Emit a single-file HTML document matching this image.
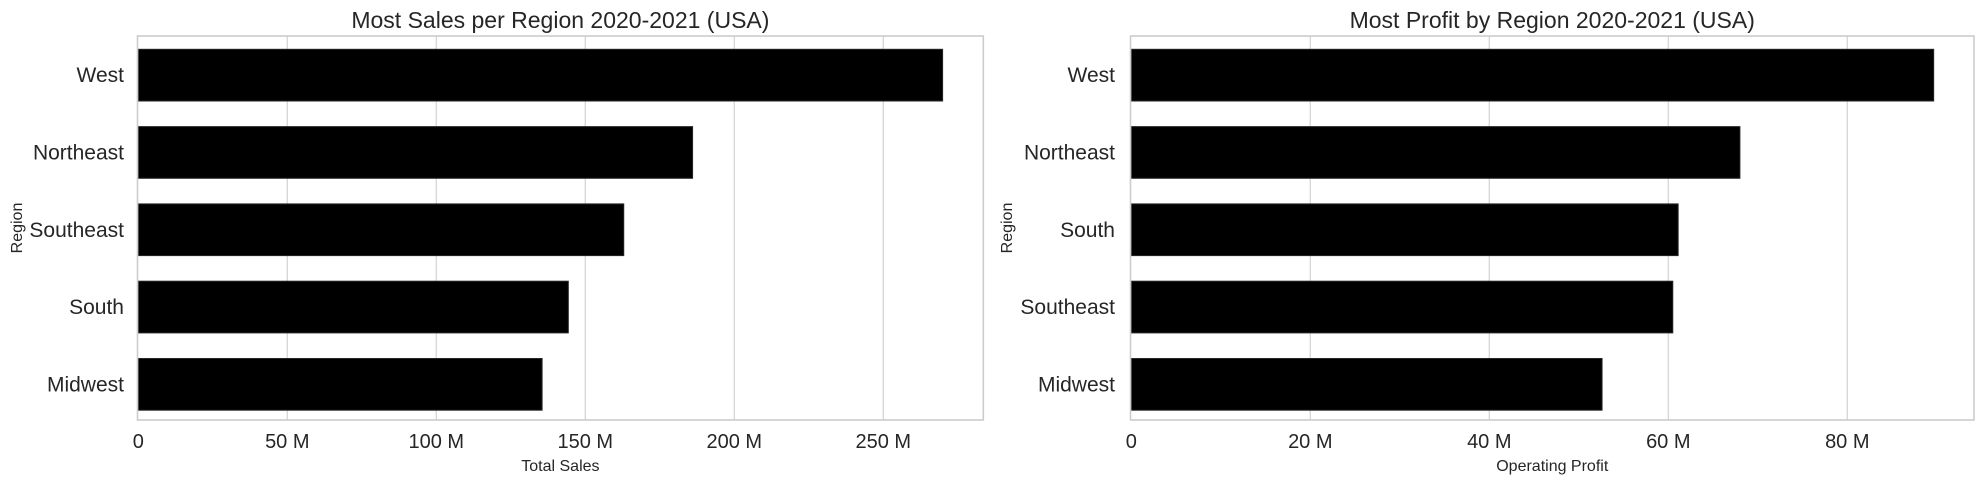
<!DOCTYPE html>
<html><head><meta charset="utf-8"><style>
body{margin:0;background:#fff;}
svg{display:block;font-family:"Liberation Sans",Arial,sans-serif;}
</style></head><body>
<svg id="chart" width="1984" height="484"></svg>
<script>
const salesCategories = ["West","Northeast","Southeast","South","Midwest"];
const salesValues = [269.9,186.0,162.9,144.3,135.5];
const salesTicks = [0,50,100,150,200,250];
const salesTickLabels = ["0","50 M","100 M","150 M","200 M","250 M"];
const profitCategories = ["West","Northeast","South","Southeast","Midwest"];
const profitValues = [89.65,68.0,61.1,60.5,52.6];
const profitTicks = [0,20,40,60,80];
const profitTickLabels = ["0","20 M","40 M","60 M","80 M"];

const svg = document.getElementById('chart');
const NS = 'http://www.w3.org/2000/svg';
function mk(tag, attrs, parent){const e=document.createElementNS(NS,tag);for(const k in attrs)e.setAttribute(k,attrs[k]);(parent||svg).appendChild(e);return e;}

function panel(o){
  const g = mk('g',{});
  
  
  const top=36, bottom=420;
  const x = v => o.x0 + v*o.ppu;
  const pitch = 77.3, bh = 51.7, firstY = 49.3;
  o.ticks.forEach((t,i)=>{
    if(i===0) return;
    const l = mk('line',{x1:x(t),x2:x(t),y1:top,y2:bottom,stroke:'#d6d6d6','stroke-width':1.3},g);
    
    
  });
  o.cats.forEach((c,i)=>{
    const y = firstY + i*pitch;
    const r = mk('rect',{x:x(0),y:y,width:x(o.vals[i])-x(0),height:bh,fill:'#000',stroke:'#262626','stroke-width':1},g);
    
    
    const t = mk('text',{x:o.labelRight,y:y+bh/2+7,'text-anchor':'end','font-size':21,fill:'#262626'},g);
    t.textContent = c;
    
    
  });
  const f = mk('rect',{x:o.frameL,y:top,width:o.frameR-o.frameL,height:bottom-top,fill:'none',stroke:'#cccccc','stroke-width':1.6},g);
  
  
  o.ticks.forEach((t,i)=>{
    const tx = mk('text',{x:x(t),y:448,'text-anchor':'middle','font-size':20,fill:'#262626'},g);
    tx.textContent = o.tickLabels[i];
    
    
  });
  const xt = mk('text',{x:(o.frameL+o.frameR)/2,y:471,'text-anchor':'middle','font-size':16,fill:'#262626'},g);
  xt.textContent = o.xTitle;
  
  
  const yt = mk('text',{x:0,y:0,'text-anchor':'middle','font-size':16,fill:'#262626',transform:`translate(${o.yTitleX},228) rotate(-90)`},g);
  yt.textContent = 'Region';
  
  
  const tt = mk('text',{x:(o.frameL+o.frameR)/2,y:28,'text-anchor':'middle','font-size':23,fill:'#262626'},g);
  tt.textContent = o.title;
  
  
}
panel({name:'sales-chart',cats:salesCategories,vals:salesValues,ticks:salesTicks,tickLabels:salesTickLabels,x0:138.3,ppu:2.98,frameL:137.5,frameR:983.3,labelRight:124,yTitleX:22,xTitle:'Total Sales',title:'Most Sales per Region 2020-2021 (USA)'});
panel({name:'profit-chart',cats:profitCategories,vals:profitValues,ticks:profitTicks,tickLabels:profitTickLabels,x0:1131.3,ppu:8.95,frameL:1130.5,frameR:1974,labelRight:1115,yTitleX:1012,xTitle:'Operating Profit',title:'Most Profit by Region 2020-2021 (USA)'});
</script>
</body></html>
